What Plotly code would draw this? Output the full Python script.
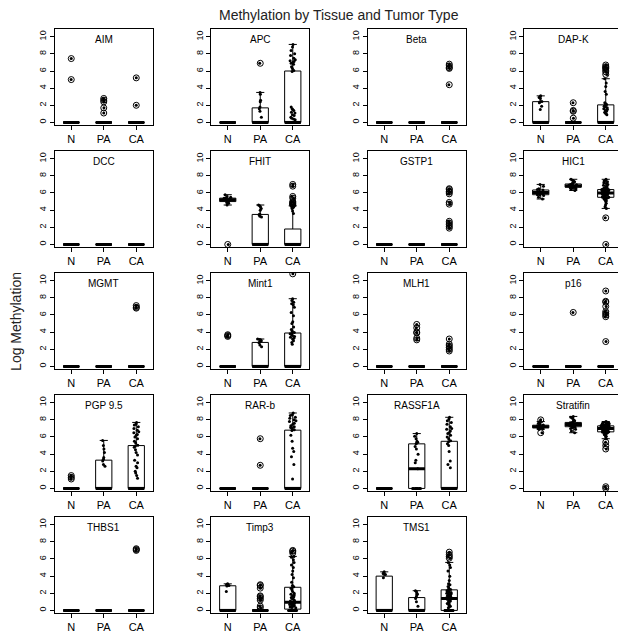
import numpy as np
import plotly.graph_objects as go
from plotly.subplots import make_subplots

genes = ["AIM", "APC", "Beta", "DAP-K",
         "DCC", "FHIT", "GSTP1", "HIC1",
         "MGMT", "Mint1", "MLH1", "p16",
         "PGP 9.5", "RAR-b", "RASSF1A", "Stratifin",
         "THBS1", "Timp3", "TMS1"]
groups = ["N", "PA", "CA"]

# number of samples sitting exactly at 0 (unmethylated), one entry per gene
N_zeros = [18, 20, 20, 11, 20, 1, 20, 0, 20, 17, 20, 20, 17, 20, 20, 0, 20, 13, 14]
PA_zeros = [19, 15, 24, 20, 24, 15, 24, 0, 24, 15, 19, 23, 15, 22, 12, 0, 24, 30, 15]
CA_zeros = [58, 32, 55, 32, 60, 45, 48, 1, 57, 34, 54, 51, 32, 37, 38, 1, 57, 15, 18]

# the remaining (non-zero) log methylation values, one list per gene
N_values = [
    [5.0, 7.45],                                                   # AIM
    [],                                                            # APC
    [],                                                            # Beta
    [1.5, 1.9, 2.3, 2.4, 2.45, 2.8, 2.9, 3.0, 3.1],                # DAP-K
    [],                                                            # DCC
    [4.6, 4.8, 4.9, 5.0, 5.0, 5.1, 5.1, 5.2, 5.2, 5.2, 5.3, 5.3,
     5.4, 5.4, 5.5, 5.6, 5.8],                                     # FHIT
    [],                                                            # GSTP1
    [5.3, 5.5, 5.7, 5.8, 5.8, 5.9, 6.0, 6.0, 6.05, 6.1, 6.1, 6.2,
     6.35, 6.4, 6.5, 6.8, 7.0],                                    # HIC1
    [],                                                            # MGMT
    [3.5, 3.6, 3.7],                                               # Mint1
    [],                                                            # MLH1
    [],                                                            # p16
    [1.1, 1.3, 1.5],                                               # PGP 9.5
    [],                                                            # RAR-b
    [],                                                            # RASSF1A
    [6.5, 6.9, 7.0, 7.0, 7.05, 7.1, 7.1, 7.15, 7.2, 7.2, 7.2, 7.25,
     7.3, 7.3, 7.35, 7.4, 7.5, 7.6, 7.8, 8.0],                     # Stratifin
    [],                                                            # THBS1
    [2.2, 2.85, 2.9, 2.95, 3.0, 3.05, 3.1],                        # Timp3
    [3.8, 4.2, 4.25, 4.3, 4.4, 4.5],                               # TMS1
]

PA_values = [
    [1.1, 1.7, 2.4, 2.6, 2.8],                                     # AIM
    [0.6, 1.3, 1.6, 1.8, 2.4, 2.6, 3.3, 3.5, 6.9],                 # APC
    [],                                                            # Beta
    [0.5, 1.3, 1.4, 2.3],                                          # DAP-K
    [],                                                            # DCC
    [3.2, 3.3, 3.45, 3.55, 4.0, 4.2, 4.4, 4.5, 4.6],               # FHIT
    [],                                                            # GSTP1
    [6.3, 6.4, 6.5, 6.6, 6.6, 6.65, 6.7, 6.7, 6.75, 6.8, 6.8, 6.8,
     6.85, 6.9, 6.9, 6.95, 7.0, 7.0, 7.1, 7.2, 7.3, 7.4, 7.5, 7.6],  # HIC1
    [],                                                            # MGMT
    [2.3, 2.5, 2.75, 2.85, 2.9, 3.0, 3.1, 3.15, 3.2],              # Mint1
    [3.1, 3.3, 3.9, 4.0, 4.5, 4.9],                                # MLH1
    [6.3],                                                         # p16
    [2.6, 2.8, 3.2, 3.4, 3.6, 4.2, 4.6, 5.0, 5.6],                 # PGP 9.5
    [2.7, 5.8],                                                    # RAR-b
    [2.3, 3.0, 3.3, 4.0, 4.6, 4.9, 5.2, 5.3, 5.4, 5.5, 5.8, 6.1,
     6.4],                                                         # RASSF1A
    [6.5, 6.7, 6.9, 7.0, 7.1, 7.15, 7.2, 7.25, 7.3, 7.35, 7.4, 7.4,
     7.45, 7.5, 7.5, 7.55, 7.6, 7.65, 7.7, 7.8, 7.9, 8.0, 8.2, 8.3,
     8.4],                                                         # Stratifin
    [],                                                            # THBS1
    [0.3, 0.5, 1.2, 1.4, 1.6, 1.7, 2.6, 2.9, 3.0],                 # Timp3
    [0.5, 1.0, 1.4, 1.6, 1.8, 1.9, 2.0, 2.2, 2.3],                 # TMS1
]

CA_values = [
    [2.0, 5.2],                                                    # AIM
    [0.3, 0.4, 0.5, 0.6, 0.8, 0.9, 1.1, 1.2, 1.4, 1.5, 1.6, 1.8,
     5.95, 6.05, 6.3, 6.5, 6.8, 6.9, 7.0, 7.1, 7.2, 7.3, 7.5, 7.8,
     8.0, 8.4, 8.8, 9.1],                                          # APC
    [4.4, 6.3, 6.4, 6.6, 6.8],                                     # Beta
    [0.9, 1.0, 1.1, 1.2, 1.3, 1.4, 1.5, 1.6, 1.7, 1.8, 1.85, 1.9,
     2.0, 2.1, 2.2, 2.3, 3.3, 3.6, 4.2, 4.6, 5.1, 5.6, 5.9, 6.1,
     6.3, 6.4, 6.5, 6.7],                                          # DAP-K
    [],                                                            # DCC
    [3.6, 3.9, 4.2, 4.3, 4.4, 4.5, 4.6, 4.7, 4.8, 4.9, 5.0, 5.4,
     5.6, 6.8, 7.0],                                               # FHIT
    [1.9, 2.1, 2.3, 2.5, 2.7, 4.7, 4.9, 5.9, 6.1, 6.2, 6.4, 6.5],  # GSTP1
    [3.1, 4.2, 4.4, 4.6, 4.8, 5.0, 5.1, 5.2, 5.3, 5.35, 5.4, 5.45,
     5.5, 5.5, 5.5, 5.6, 5.6, 5.65, 5.7, 5.75, 5.8, 5.8, 5.85, 5.9,
     5.9, 5.95, 5.95, 6.0, 6.0, 6.0, 6.05, 6.1, 6.1, 6.15, 6.2, 6.2,
     6.25, 6.3, 6.3, 6.35, 6.35, 6.4, 6.4, 6.4, 6.4, 6.5, 6.5, 6.6,
     6.6, 6.7, 6.8, 6.9, 7.0, 7.1, 7.2, 7.3, 7.4, 7.5, 7.6],      # HIC1
    [6.8, 6.9, 7.1],                                               # MGMT
    [2.6, 2.8, 3.0, 3.2, 3.3, 3.4, 3.5, 3.6, 3.7, 3.8, 3.85, 3.95,
     4.1, 4.3, 4.6, 5.0, 5.2, 5.9, 6.3, 6.9, 7.2, 7.3, 7.5, 7.7,
     7.9, 10.8],                                                   # Mint1
    [1.8, 2.0, 2.2, 2.4, 2.6, 3.2],                                # MLH1
    [2.9, 5.8, 6.0, 6.2, 6.4, 7.0, 7.5, 7.6, 8.8],                 # p16
    [1.2, 1.5, 1.8, 2.0, 2.4, 2.6, 3.0, 3.3, 3.9, 4.2, 4.5, 4.8,
     4.95, 5.05, 5.3, 5.5, 5.8, 6.0, 6.2, 6.3, 6.5, 6.6, 6.8, 7.0,
     7.2, 7.4, 7.5, 7.7],                                          # PGP 9.5
    [1.1, 2.8, 3.7, 4.3, 4.7, 5.5, 6.2, 6.75, 6.85, 7.0, 7.1, 7.2,
     7.3, 7.5, 7.6, 7.8, 7.9, 8.0, 8.2, 8.3, 8.5, 8.6, 8.8],       # RAR-b
    [2.4, 2.8, 3.2, 4.3, 5.0, 5.2, 5.45, 5.55, 5.8, 6.0, 6.2, 6.4,
     6.5, 6.7, 6.9, 7.0, 7.2, 7.5, 7.7, 7.9, 8.1, 8.3],            # RASSF1A
    [0.2, 4.6, 5.0, 5.4, 5.8, 6.0, 6.1, 6.2, 6.3, 6.4, 6.45, 6.5,
     6.55, 6.6, 6.6, 6.65, 6.7, 6.7, 6.75, 6.8, 6.8, 6.85, 6.9, 6.9,
     6.9, 6.95, 6.95, 7.0, 7.0, 7.0, 7.05, 7.05, 7.1, 7.1, 7.1, 7.15,
     7.15, 7.2, 7.2, 7.2, 7.25, 7.25, 7.3, 7.3, 7.3, 7.35, 7.35, 7.4,
     7.4, 7.45, 7.5, 7.5, 7.55, 7.6, 7.6, 7.65, 7.7, 7.75, 7.8],   # Stratifin
    [7.0, 7.1, 7.2],                                               # THBS1
    [0.3, 0.35, 0.4, 0.45, 0.5, 0.55, 0.6, 0.65, 0.7, 0.75, 0.8, 0.8,
     0.85, 0.9, 0.9, 1.0, 1.1, 1.2, 1.3, 1.4, 1.5, 1.6, 1.7, 1.8,
     1.9, 2.0, 2.2, 2.4, 2.6, 2.65, 2.75, 2.9, 3.3, 3.8, 4.2, 4.6,
     5.0, 5.3, 5.6, 5.9, 6.2, 6.3, 6.7, 6.9, 7.0],                 # Timp3
    [0.3, 0.4, 0.5, 0.6, 0.7, 0.8, 0.9, 1.0, 1.1, 1.2, 1.3, 1.35,
     1.45, 1.5, 1.55, 1.6, 1.7, 1.75, 1.8, 1.9, 1.95, 2.0, 2.1, 2.15,
     2.2, 2.3, 2.35, 2.45, 2.6, 2.8, 3.0, 3.1, 3.5, 4.0, 4.6, 5.0,
     5.3, 5.6, 6.1, 6.3, 6.5, 6.8],                                # TMS1
]

FONT = "Arial, Liberation Sans, sans-serif"
BOX_W = 0.5

fig = make_subplots(rows=5, cols=4,
                    specs=[[{}] * 4] * 4 + [[{}, {}, {}, None]],
                    horizontal_spacing=0.104, vertical_spacing=0.0445)

for i, gene in enumerate(genes):
    row, col = i // 4 + 1, i % 4 + 1
    samples = [[0.0] * N_zeros[i] + N_values[i],
               [0.0] * PA_zeros[i] + PA_values[i],
               [0.0] * CA_zeros[i] + CA_values[i]]

    for pos, vals in enumerate(samples, start=1):
        xs = [pos] * len(vals)
        # boxplot, outliers as open circles at the group centre
        fig.add_trace(go.Box(
            x=xs, y=vals, width=BOX_W, quartilemethod="inclusive",
            boxpoints="outliers", jitter=0, pointpos=0, whiskerwidth=0.5,
            fillcolor="rgba(0,0,0,0)", line=dict(color="black", width=1),
            marker=dict(symbol="circle-open", size=6, color="black",
                        line=dict(width=1)),
            hoverinfo="skip"), row=row, col=col)
        # jittered stripchart of all samples on top
        fig.add_trace(go.Box(
            x=xs, y=vals, width=BOX_W, boxpoints="all", jitter=0.6,
            pointpos=0, fillcolor="rgba(0,0,0,0)",
            line=dict(color="rgba(0,0,0,0)", width=0),
            marker=dict(color="black", size=3), hoverinfo="skip"),
            row=row, col=col)
        # thick median bar like R's boxplot
        med = float(np.median(vals))
        fig.add_trace(go.Scatter(
            x=[pos - BOX_W / 2, pos + BOX_W / 2], y=[med, med], mode="lines",
            line=dict(color="black", width=3), hoverinfo="skip"),
            row=row, col=col)

    fig.add_annotation(text=gene, x=0.5, y=1, xref="x domain", yref="y domain",
                       xanchor="center", yanchor="top", yshift=-3,
                       showarrow=False, font=dict(size=10, color="black"),
                       row=row, col=col)

fig.update_xaxes(range=[0.5, 3.5], tickvals=[1, 2, 3], ticktext=groups,
                 ticks="outside", ticklen=4, tickcolor="black",
                 showline=True, mirror=True, linecolor="black", linewidth=1,
                 showgrid=False, zeroline=False,
                 tickfont=dict(family=FONT, size=11, color="black"))
fig.update_yaxes(range=[-0.3, 10.9], tickvals=[0, 2, 4, 6, 8, 10],
                 tickangle=-90, ticks="outside", ticklen=4, tickcolor="black",
                 showline=True, mirror=True, linecolor="black", linewidth=1,
                 showgrid=False, zeroline=False,
                 tickfont=dict(family=FONT, size=9, color="black"))

fig.add_annotation(text="Methylation by Tissue and Tumor Type", x=0.5, y=1.024,
                   xref="paper", yref="paper", xanchor="center",
                   yanchor="middle", showarrow=False,
                   font=dict(size=14, color="#222"))
fig.add_annotation(text="Log Methylation", x=-0.069, y=0.5, xref="paper",
                   yref="paper", textangle=-90, xanchor="center",
                   yanchor="middle", showarrow=False,
                   font=dict(size=14, color="#222"))

# the page body adds an 8px margin, so the figure is sized to the window minus it
fig.update_layout(
    width=618, height=629,
    margin=dict(l=47, r=4, t=21, b=24),
    boxmode="overlay", showlegend=False,
    plot_bgcolor="white", paper_bgcolor="white",
    font=dict(family=FONT, color="black"),
)

fig.write_html("out.html")
